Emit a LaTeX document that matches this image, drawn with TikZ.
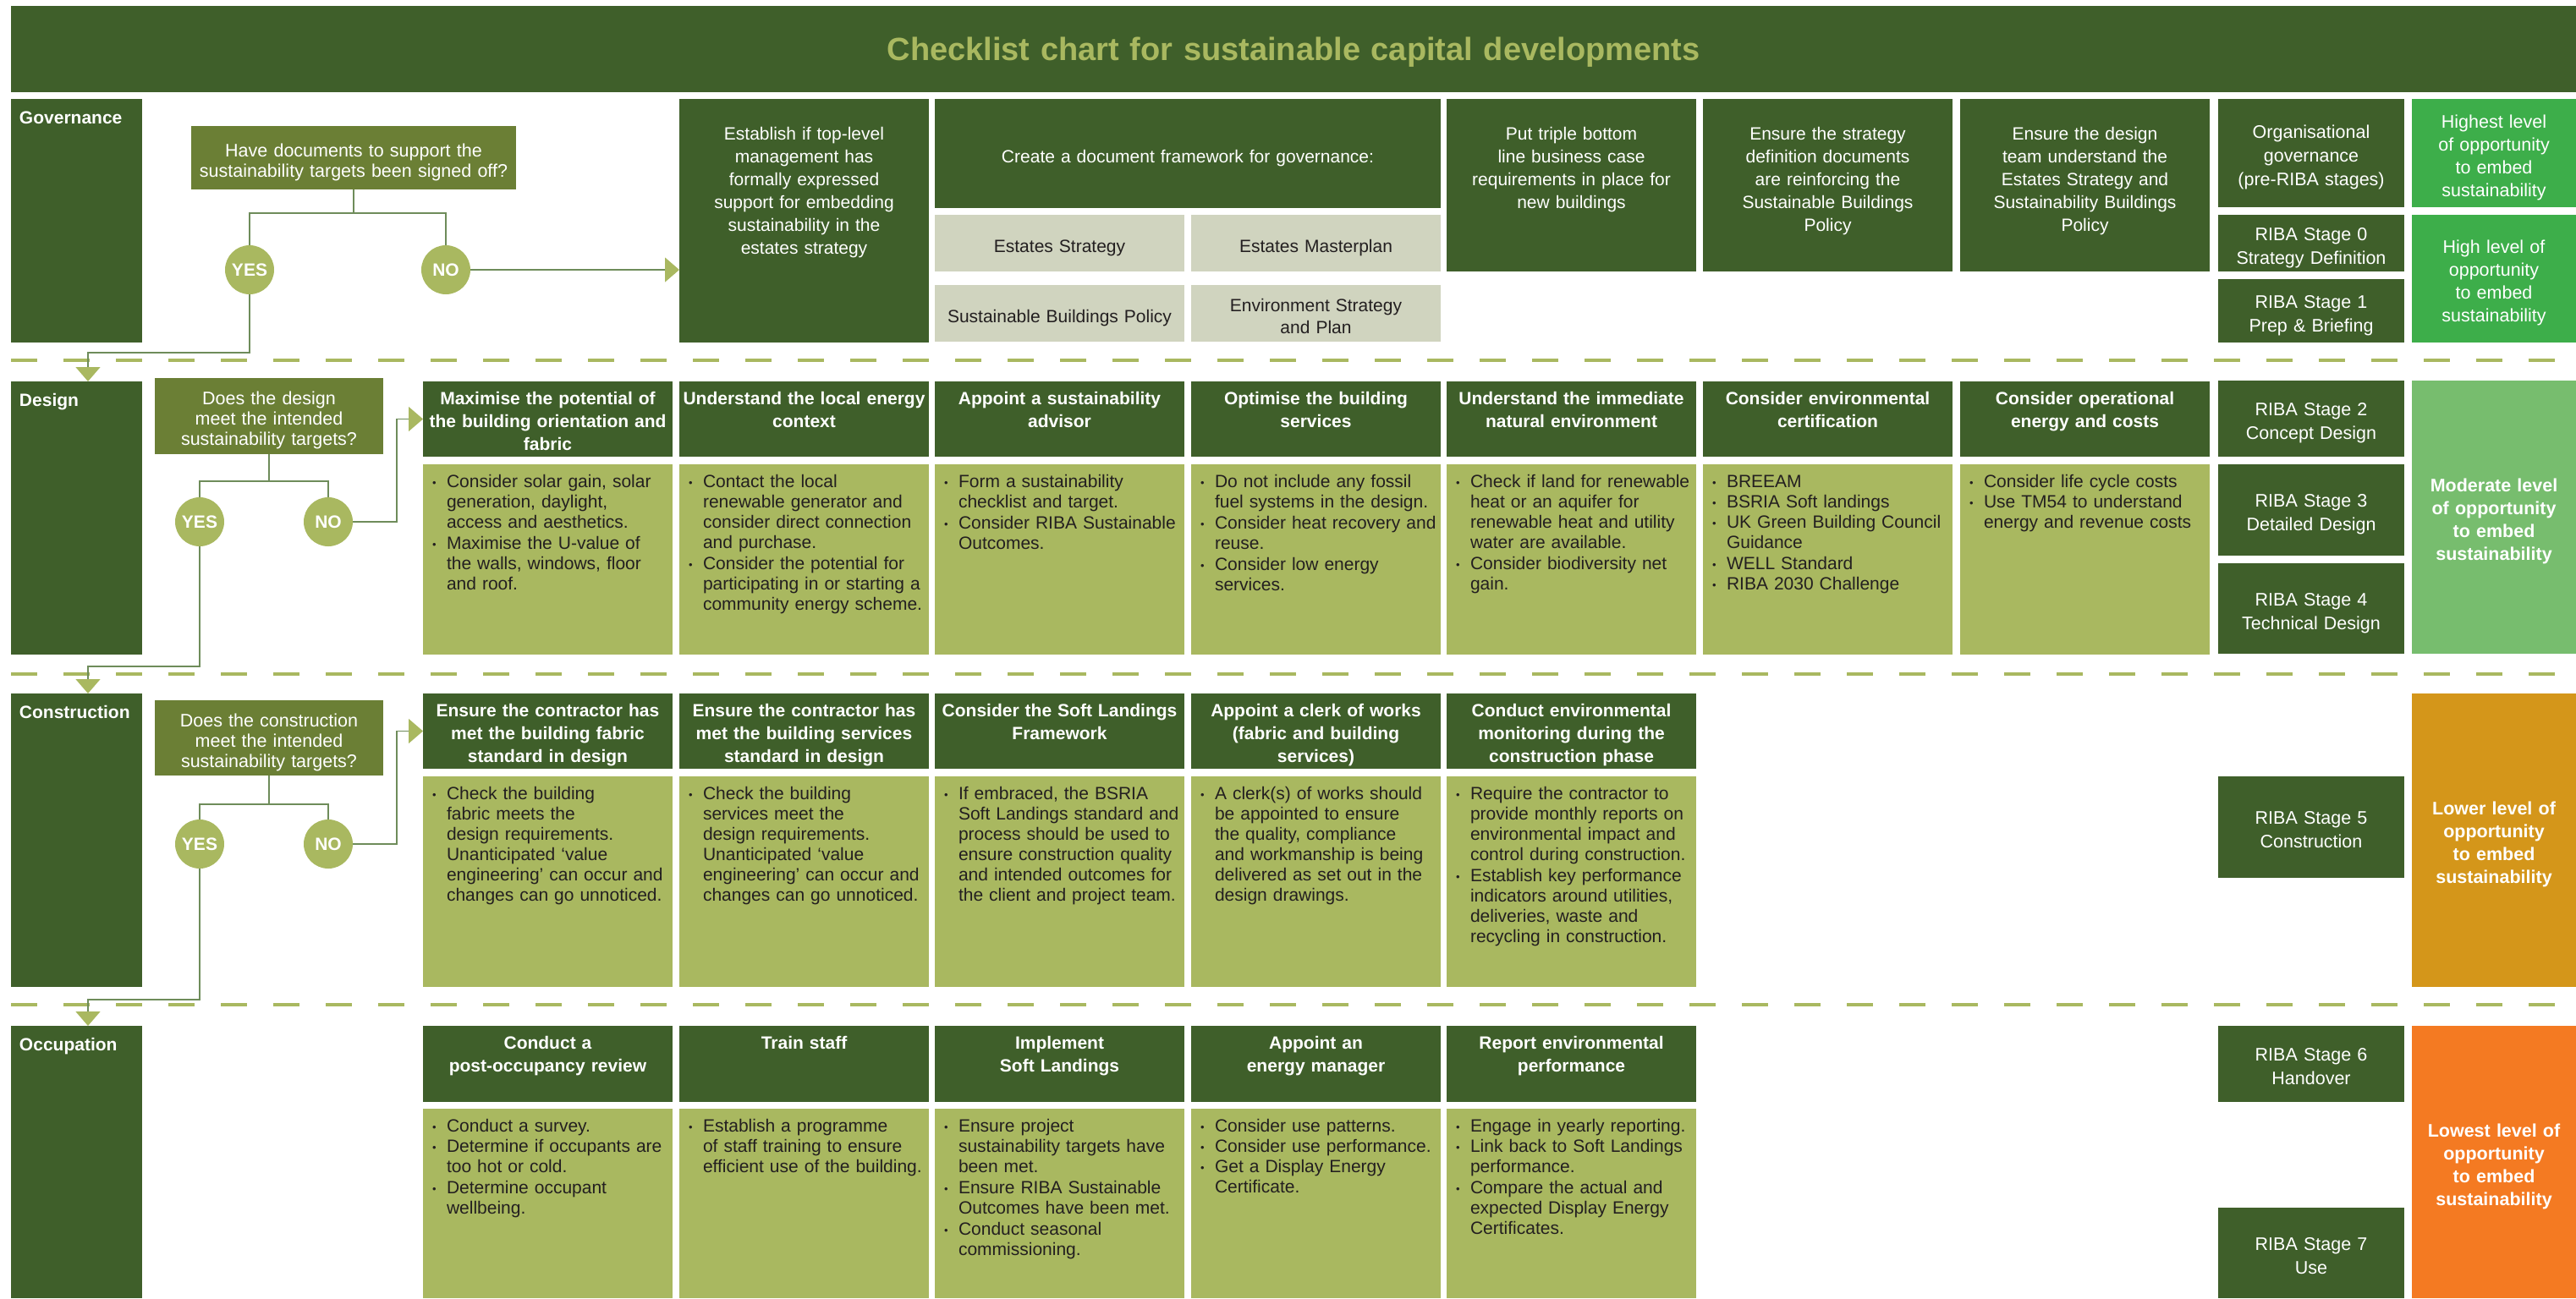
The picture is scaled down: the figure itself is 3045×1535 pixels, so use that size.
\documentclass[tikz,border=0pt]{standalone}
\usepackage{fontspec}
\setmainfont{Liberation Sans}
\usepackage{tikz}
\usetikzlibrary{arrows.meta,math}

\definecolor{dkgreen}{HTML}{3F5F2A}
\definecolor{olive}{HTML}{6B7F35}
\definecolor{ltolive}{HTML}{A9B860}
\definecolor{docgrey}{HTML}{D0D4BF}
\definecolor{linkgreen}{HTML}{6E8C5A}
\definecolor{txt}{HTML}{231F20}
\definecolor{lvlA}{HTML}{3DAE4A}
\definecolor{lvlB}{HTML}{77BD6E}
\definecolor{lvlC}{HTML}{D4961A}
\definecolor{lvlD}{HTML}{F47A22}

\newcommand{\chartfont}{\bfseries\fontsize{38}{44}\selectfont}
\newcommand{\lbfont}{\bfseries\fontsize{21}{24}\selectfont}
\newcommand{\hdfont}{\bfseries\fontsize{21}{27}\selectfont}
\newcommand{\bdfont}{\fontsize{21}{24}\selectfont}
\newcommand{\gvfont}{\fontsize{21}{27}\selectfont}
\newcommand{\qsfont}{\fontsize{21.5}{24}\selectfont}
\newcommand{\dcfont}{\fontsize{21}{26}\selectfont}
\newcommand{\rbfont}{\fontsize{21.5}{28}\selectfont}
\newcommand{\lvfont}{\fontsize{21.5}{27}\selectfont}
\newcommand{\lvbfont}{\bfseries\fontsize{21.5}{27}\selectfont}
\newcommand{\ynfont}{\bfseries\fontsize{21}{24}\selectfont}
\newcommand{\itm}[1]{\makebox[17pt][l]{\raisebox{1.5pt}{\fontsize{13}{13}\selectfont\textbullet}}\begin{tabular}[t]{@{}l@{}}#1\end{tabular}\par}

\begin{document}
\begin{tikzpicture}[x=1pt, y=-1pt, inner sep=0pt, outer sep=0pt,
    >={Triangle[length=17pt,width=29pt,color=ltolive]},
    link/.style={draw=linkgreen, line width=1.3pt},
    sep/.style={draw=ltolive, line width=3.5pt, dash pattern=on 31pt off 31pt},
    box/.style n args={5}{anchor=north west, minimum width=#1, text width=#3, align=center, text height=#2/2-(#4-1)*#5/2+10.5, text depth=#2/2+(#4-1)*#5/2-10.5},
    lab/.style={fill=dkgreen, text=white, font=\lbfont, anchor=north west, inner xsep=10pt, text width=135pt, align=left, text height=29.5pt, text depth=#1-29.5},
    gv/.style={fill=dkgreen, text=white, font=\gvfont, anchor=north west, inner xsep=6pt, text width=283pt, align=center, text height=48.5pt, text depth=#1-48.5},
    hd/.style={fill=dkgreen, text=white, font=\hdfont, anchor=north west, inner xsep=2pt, text width=291pt, align=center, text height=27.5pt, text depth=#1-27.5},
    bd/.style={fill=ltolive, text=txt, font=\bdfont, anchor=north west, inner xsep=11pt, text width=273pt, align=left, text height=27.5pt, text depth=#1-27.5},
    qs/.style n args={3}{fill=olive, text=white, font=\qsfont, box={#1}{#2}{#1-8}{#3}{24}},
    dc/.style 2 args={fill=docgrey, text=txt, font=\dcfont, box={295}{#1}{285pt}{#2}{26}},
    rb/.style 2 args={fill=dkgreen, text=white, font=\rbfont, box={220}{#1}{212pt}{#2}{28}},
    lv/.style 2 args={fill=#1, text=white, font=\lvfont, box={194}{#2}{186pt}{4}{27}},
    lvb/.style 2 args={lv={#1}{#2}, font=\lvbfont},
    yn/.style={circle, fill=ltolive, text=white, font=\ynfont, minimum size=58pt}]
    \useasboundingbox (0,0) rectangle (3045,1535);

    \node[fill=dkgreen, text=ltolive, font=\chartfont, anchor=north west, minimum width=3032, text width=2000pt, align=center, text height=64.5pt, text depth=37.5pt] (title) at (13,7) {Checklist chart for sustainable capital developments};

    \node[lab=288] (glab) at (13,117) {Governance};
    \node[lab=323] (dlab) at (13,451) {Design};
    \node[lab=347] (clab) at (13,820) {Construction};
    \node[lab=322] (olab) at (13,1213) {Occupation};

    \node[qs={384}{75}{2}] (q0) at (226,149) {Have documents to support the\\sustainability targets been signed off?};
    \node[yn] (y0) at (295,319) {YES};
    \node[yn] (n0) at (527,319) {NO};
    \node[gv=288] (g1) at (803,117) {Establish if top-level\\management has\\formally expressed\\support for embedding\\sustainability in the\\estates strategy};
    \node[fill=dkgreen, text=white, font=\gvfont, box={598}{129}{580pt}{1}{27}] (g2) at (1105,117) {Create a document framework for governance:};
    \node[dc={67}{1}] (g3) at (1105,254) {Estates Strategy};
    \node[dc={67}{1}] (g4) at (1408,254) {Estates Masterplan};
    \node[dc={67}{1}] (g5) at (1105,337) {Sustainable Buildings Policy};
    \node[dc={67}{2}] (g6) at (1408,337) {Environment Strategy\\and Plan};
    \node[gv=204] (g7) at (1710,117) {Put triple bottom\\line business case\\requirements in place for\\new buildings};
    \node[gv=204] (g8) at (2013,117) {Ensure the strategy\\definition documents\\are reinforcing the\\Sustainable Buildings\\Policy};
    \node[gv=204] (g9) at (2317,117) {Ensure the design\\team understand the\\Estates Strategy and\\Sustainability Buildings\\Policy};
    \node[rb={128}{3}] (r0) at (2622,117) {Organisational\\governance\\(pre-RIBA stages)};
    \node[rb={67}{2}] (r1) at (2622,254) {RIBA Stage 0\\Strategy Definition};
    \node[rb={75}{2}] (r2) at (2622,330) {RIBA Stage 1\\Prep \& Briefing};
    \node[lv={lvlA}{128}] (l0) at (2851,117) {Highest level\\of opportunity\\to embed\\sustainability};
    \node[lv={lvlA}{151}] (l1) at (2851,254) {High level of\\opportunity\\to embed\\sustainability};

    \node[qs={270}{90}{3}] (q1) at (183,447) {Does the design\\meet the intended\\sustainability targets?};
    \node[yn] (y1) at (236,617) {YES};
    \node[yn] (n1) at (388,617) {NO};
    \node[hd=89] (d0h) at (500,451) {Maximise the potential of\\the building orientation and\\fabric};
    \node[hd=89] (d1h) at (803,451) {Understand the local energy\\context};
    \node[hd=89] (d2h) at (1105,451) {Appoint a sustainability\\advisor};
    \node[hd=89] (d3h) at (1408,451) {Optimise the building\\services};
    \node[hd=89] (d4h) at (1710,451) {Understand the immediate\\natural environment};
    \node[hd=89] (d5h) at (2013,451) {Consider environmental\\certification};
    \node[hd=89] (d6h) at (2317,451) {Consider operational\\energy and costs};
    \node[bd=225] (d0b) at (500,549) {\itm{Consider solar gain, solar\\generation, daylight,\\access and aesthetics.}\itm{Maximise the U-value of\\the walls, windows, floor\\and roof.}};
    \node[bd=225] (d1b) at (803,549) {\itm{Contact the local\\renewable generator and\\consider direct connection\\and purchase.}\itm{Consider the potential for\\participating in or starting a\\community energy scheme.}};
    \node[bd=225] (d2b) at (1105,549) {\itm{Form a sustainability\\checklist and target.}\itm{Consider RIBA Sustainable\\Outcomes.}};
    \node[bd=225] (d3b) at (1408,549) {\itm{Do not include any fossil\\fuel systems in the design.}\itm{Consider heat recovery and\\reuse.}\itm{Consider low energy\\services.}};
    \node[bd=225] (d4b) at (1710,549) {\itm{Check if land for renewable\\heat or an aquifer for\\renewable heat and utility\\water are available.}\itm{Consider biodiversity net\\gain.}};
    \node[bd=225] (d5b) at (2013,549) {\itm{BREEAM}\itm{BSRIA Soft landings}\itm{UK Green Building Council\\Guidance}\itm{WELL Standard}\itm{RIBA 2030 Challenge}};
    \node[bd=225] (d6b) at (2317,549) {\itm{Consider life cycle costs}\itm{Use TM54 to understand\\energy and revenue costs}};
    \node[rb={90}{2}] (r3) at (2622,450) {RIBA Stage 2\\Concept Design};
    \node[rb={108}{2}] (r4) at (2622,549) {RIBA Stage 3\\Detailed Design};
    \node[rb={107}{2}] (r5) at (2622,666) {RIBA Stage 4\\Technical Design};
    \node[lvb={lvlB}{323}] (l2) at (2851,450) {Moderate level\\of opportunity\\to embed\\sustainability};

    \node[qs={270}{89}{3}] (q2) at (183,828) {Does the construction\\meet the intended\\sustainability targets?};
    \node[yn] (y2) at (236,998) {YES};
    \node[yn] (n2) at (388,998) {NO};
    \node[hd=89] (c0h) at (500,820) {Ensure the contractor has\\met the building fabric\\standard in design};
    \node[hd=89] (c1h) at (803,820) {Ensure the contractor has\\met the building services\\standard in design};
    \node[hd=89] (c2h) at (1105,820) {Consider the Soft Landings\\Framework};
    \node[hd=89] (c3h) at (1408,820) {Appoint a clerk of works\\(fabric and building\\services)};
    \node[hd=89] (c4h) at (1710,820) {Conduct environmental\\monitoring during the\\construction phase};
    \node[bd=249] (c0b) at (500,918) {\itm{Check the building\\fabric meets the\\design requirements.\\Unanticipated ‘value\\engineering’ can occur and\\changes can go unnoticed.}};
    \node[bd=249] (c1b) at (803,918) {\itm{Check the building\\services meet the\\design requirements.\\Unanticipated ‘value\\engineering’ can occur and\\changes can go unnoticed.}};
    \node[bd=249] (c2b) at (1105,918) {\itm{If embraced, the BSRIA\\Soft Landings standard and\\process should be used to\\ensure construction quality\\and intended outcomes for\\the client and project team.}};
    \node[bd=249] (c3b) at (1408,918) {\itm{A clerk(s) of works should\\be appointed to ensure\\the quality, compliance\\and workmanship is being\\delivered as set out in the\\design drawings.}};
    \node[bd=249] (c4b) at (1710,918) {\itm{Require the contractor to\\provide monthly reports on\\environmental impact and\\control during construction.}\itm{Establish key performance\\indicators around utilities,\\deliveries, waste and\\recycling in construction.}};
    \node[rb={120}{2}] (r6) at (2622,918) {RIBA Stage 5\\Construction};
    \node[lvb={lvlC}{347}] (l3) at (2851,820) {Lower level of\\opportunity\\to embed\\sustainability};

    \node[hd=90] (o0h) at (500,1213) {Conduct a\\post-occupancy review};
    \node[hd=90] (o1h) at (803,1213) {Train staff};
    \node[hd=90] (o2h) at (1105,1213) {Implement\\Soft Landings};
    \node[hd=90] (o3h) at (1408,1213) {Appoint an\\energy manager};
    \node[hd=90] (o4h) at (1710,1213) {Report environmental\\performance};
    \node[bd=224] (o0b) at (500,1311) {\itm{Conduct a survey.}\itm{Determine if occupants are\\too hot or cold.}\itm{Determine occupant\\wellbeing.}};
    \node[bd=224] (o1b) at (803,1311) {\itm{Establish a programme\\of staff training to ensure\\efficient use of the building.}};
    \node[bd=224] (o2b) at (1105,1311) {\itm{Ensure project\\sustainability targets have\\been met.}\itm{Ensure RIBA Sustainable\\Outcomes have been met.}\itm{Conduct seasonal\\commissioning.}};
    \node[bd=224] (o3b) at (1408,1311) {\itm{Consider use patterns.}\itm{Consider use performance.}\itm{Get a Display Energy\\Certificate.}};
    \node[bd=224] (o4b) at (1710,1311) {\itm{Engage in yearly reporting.}\itm{Link back to Soft Landings\\performance.}\itm{Compare the actual and\\expected Display Energy\\Certificates.}};
    \node[rb={90}{2}] (r7) at (2622,1213) {RIBA Stage 6\\Handover};
    \node[rb={107}{2}] (r8) at (2622,1428) {RIBA Stage 7\\Use};
    \node[lvb={lvlD}{322}] (l4) at (2851,1213) {Lowest level of\\opportunity\\to embed\\sustainability};

    \draw[sep] (13,426) -- (3045,426);
    \draw[sep] (13,797) -- (3045,797);
    \draw[sep] (13,1188) -- (3045,1188);

    \coordinate (k0) at (104,417);
    \coordinate (k1) at (104,788);
    \coordinate (k2) at (104,1182);
    \coordinate (m1) at (469,617);
    \coordinate (m2) at (469,998);

    \draw[link] (q0.south) -- ++(0,28) coordinate (t0);
    \draw[link] (y0) |- (t0) -| (n0);
    \draw[link, ->] (n0) -- (n0 -| g1.west);
    \draw[link, ->] (y0) |- (k0) -- (k0 |- dlab.north);

    \draw[link] (q1.south) -- ++(0,32) coordinate (t1);
    \draw[link] (y1) |- (t1) -| (n1);
    \draw[link, ->] (n1) -- (m1) |- (d0h.west);
    \draw[link, ->] (y1) |- (k1) -- (k1 |- clab.north);

    \draw[link] (q2.south) -- ++(0,34) coordinate (t2);
    \draw[link] (y2) |- (t2) -| (n2);
    \draw[link, ->] (n2) -- (m2) |- (c0h.west);
    \draw[link, ->] (y2) |- (k2) -- (k2 |- olab.north);
\end{tikzpicture}
\end{document}
